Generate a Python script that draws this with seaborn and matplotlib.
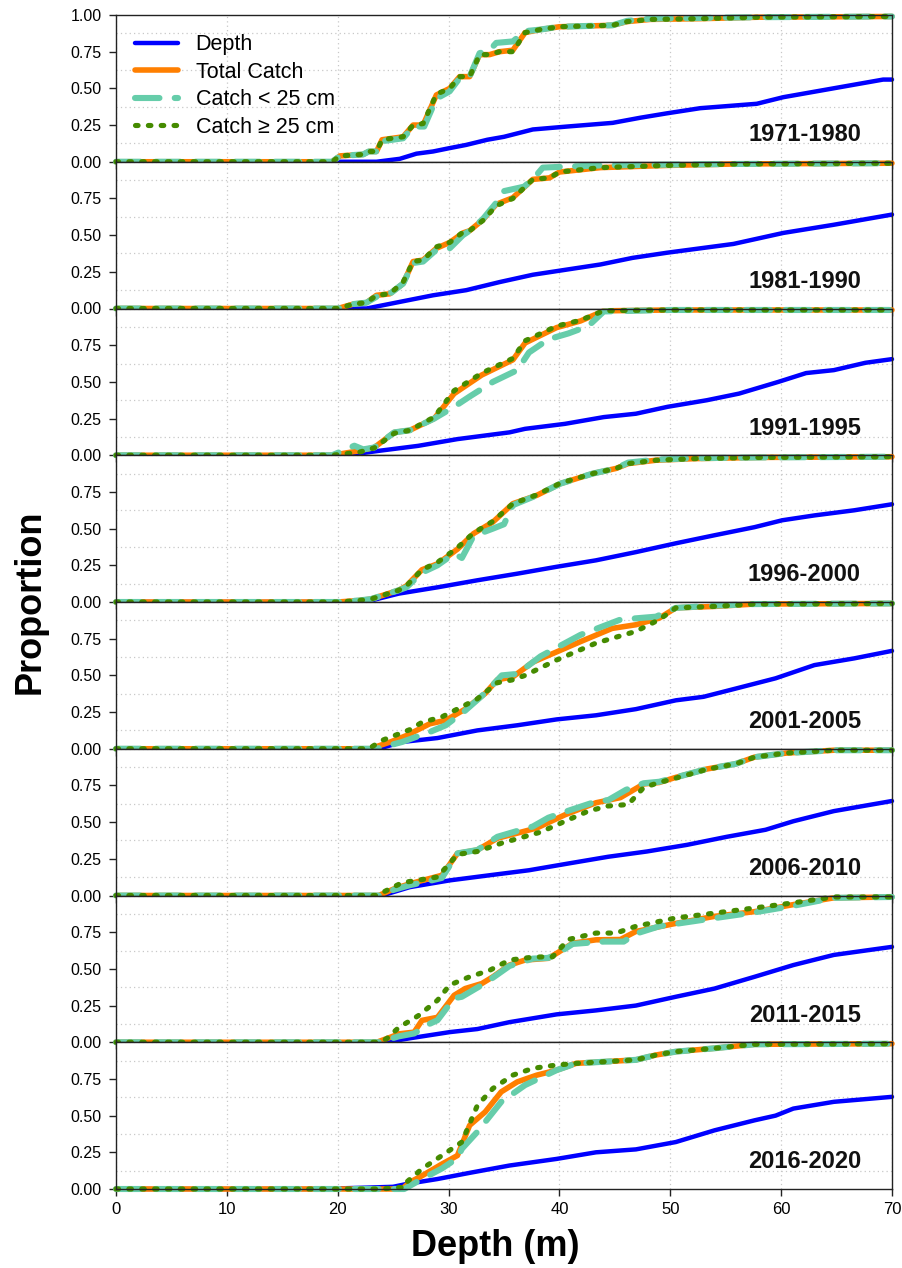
import matplotlib
matplotlib.use("Agg")
import matplotlib.pyplot as plt
from matplotlib.ticker import MultipleLocator, FixedLocator
import seaborn as sns

# ---------------------------------------------------------------------------
# Cumulative proportions by depth (m), one set of curves per period.
# Each list holds (depth, proportion) knots.
# ---------------------------------------------------------------------------
PERIODS = ["1971-1980", "1981-1990", "1991-1995", "1996-2000",
           "2001-2005", "2006-2010", "2011-2015", "2016-2020"]

# 1971-1980
DEPTH_P1 = [(0, 0), (23.5, 0), (25.6, 0.02), (27.1, 0.055), (28.6, 0.07), (30.1, 0.093),
            (31.6, 0.115), (33.5, 0.15), (35.0, 0.17), (37.6, 0.22), (40.7, 0.24),
            (44.8, 0.265), (47.3, 0.30), (49.7, 0.33), (52.7, 0.365), (57.8, 0.395),
            (60.2, 0.44), (63.2, 0.48), (66.2, 0.52), (69.2, 0.56), (70, 0.56)]
TOTAL_P1 = [(0, 0), (19.5, 0), (20.2, 0.04), (22.3, 0.05), (22.8, 0.07), (23.5, 0.07),
            (24.0, 0.15), (25.9, 0.17), (26.8, 0.25), (27.7, 0.25), (28.9, 0.455),
            (30.1, 0.50), (31.0, 0.58), (31.9, 0.58), (32.8, 0.73), (33.7, 0.73),
            (34.6, 0.75), (35.8, 0.76), (36.9, 0.88), (38.2, 0.90), (40.0, 0.92),
            (44.8, 0.93), (46.1, 0.955), (48.2, 0.97), (52.7, 0.975), (58, 0.985), (70, 0.99)]
SMALL_P1 = [(0, 0), (19.5, 0), (20.2, 0.04), (22.3, 0.05), (22.8, 0.07), (23.5, 0.07),
            (24.0, 0.14), (25.9, 0.16), (26.8, 0.24), (27.8, 0.24), (28.9, 0.43),
            (30.1, 0.48), (31.0, 0.57), (31.9, 0.58), (32.8, 0.74), (33.7, 0.76),
            (34.3, 0.81), (35.8, 0.82), (36.9, 0.89), (38.2, 0.90), (40.0, 0.92),
            (44.8, 0.93), (46.1, 0.96), (48.2, 0.975), (52.7, 0.98), (58, 0.985), (70, 0.99)]
LARGE_P1 = [(0, 0), (19.5, 0), (20.2, 0.04), (22.3, 0.05), (22.8, 0.07), (23.5, 0.07),
            (24.0, 0.15), (25.9, 0.17), (26.8, 0.25), (27.7, 0.26), (28.9, 0.46),
            (30.1, 0.50), (31.0, 0.58), (31.9, 0.58), (32.8, 0.73), (33.7, 0.73),
            (34.6, 0.75), (35.8, 0.75), (36.9, 0.88), (38.2, 0.90), (40.0, 0.92),
            (44.8, 0.93), (46.1, 0.955), (48.2, 0.97), (52.7, 0.975), (58, 0.985), (70, 0.99)]

# 1981-1990
DEPTH_P2 = [(0, 0), (22.6, 0), (25.6, 0.045), (28.6, 0.09), (31.6, 0.125), (34.6, 0.18),
            (37.6, 0.23), (43.7, 0.30), (46.6, 0.345), (49.7, 0.38), (55.7, 0.44),
            (60.2, 0.515), (64.7, 0.57), (70, 0.64)]
TOTAL_P2 = [(0, 0), (20, 0), (21.4, 0.03), (22.6, 0.04), (23.5, 0.09), (24.7, 0.10),
            (25.9, 0.17), (26.8, 0.32), (27.7, 0.33), (28.9, 0.41), (30.1, 0.45),
            (31.3, 0.515), (31.9, 0.53), (33.1, 0.605), (34.3, 0.71), (35.8, 0.755),
            (37.6, 0.88), (39.1, 0.89), (40.0, 0.93), (43.7, 0.96), (49.7, 0.975),
            (56, 0.985), (70, 0.99)]
SMALL_P2 = [(0, 0), (20, 0), (21.4, 0.03), (22.6, 0.04), (23.5, 0.08), (24.7, 0.10),
            (25.9, 0.17), (26.8, 0.31), (27.7, 0.32), (28.9, 0.40), (30.1, 0.41),
            (31.3, 0.50), (31.9, 0.53), (33.1, 0.61), (34.3, 0.72), (35.0, 0.80),
            (36.8, 0.83), (37.6, 0.88), (38.5, 0.96), (40.0, 0.965), (43.7, 0.975),
            (49.7, 0.98), (56, 0.985), (70, 0.99)]
LARGE_P2 = [(0, 0), (20, 0), (21.4, 0.03), (22.6, 0.04), (23.5, 0.09), (24.7, 0.10),
            (25.9, 0.18), (26.8, 0.32), (27.7, 0.33), (28.9, 0.42), (30.1, 0.45),
            (31.3, 0.52), (31.9, 0.53), (33.1, 0.60), (34.3, 0.70), (35.8, 0.75),
            (37.6, 0.88), (39.1, 0.89), (40.0, 0.93), (43.7, 0.96), (49.7, 0.975),
            (56, 0.985), (70, 0.99)]

# 1991-1995
DEPTH_P3 = [(0, 0), (20.8, 0), (23.7, 0.03), (27.25, 0.064), (30.8, 0.11), (35.5, 0.156),
            (36.9, 0.18), (40.5, 0.214), (44.0, 0.26), (46.9, 0.283), (49.75, 0.33),
            (53.3, 0.375), (56.2, 0.42), (59.75, 0.50), (62.25, 0.56), (64.75, 0.58),
            (67.6, 0.63), (70, 0.655)]
TOTAL_P3 = [(0, 0), (19.5, 0), (21.9, 0.03), (23.3, 0.053), (25.1, 0.156), (26.5, 0.17),
            (28.7, 0.25), (30.5, 0.42), (33.0, 0.547), (35.8, 0.65), (36.9, 0.765),
            (39.75, 0.87), (41.9, 0.915), (44.0, 0.984), (50, 0.99), (70, 0.99)]
SMALL_P3 = [(0, 0), (19.5, 0), (21.5, 0.065), (22.3, 0.04), (23.3, 0.053), (25.1, 0.156),
            (26.5, 0.17), (28.7, 0.25), (30.5, 0.33), (31.9, 0.40), (34.0, 0.50),
            (36.2, 0.58), (37.25, 0.70), (39.0, 0.79), (40.8, 0.83), (42.6, 0.88),
            (44.0, 0.98), (50, 0.99), (70, 0.99)]
LARGE_P3 = [(0, 0), (19.5, 0), (21.9, 0.02), (23.3, 0.05), (25.1, 0.15), (26.5, 0.17),
            (28.7, 0.26), (30.5, 0.44), (33.0, 0.56), (35.8, 0.66), (36.9, 0.78),
            (39.75, 0.88), (41.9, 0.92), (44.0, 0.985), (50, 0.99), (70, 0.99)]

# 1996-2000
DEPTH_P4 = [(0, 0), (22, 0), (23.0, 0.01), (25.5, 0.057), (29.0, 0.10), (32.6, 0.148),
            (36.2, 0.193), (39.75, 0.24), (43.3, 0.284), (46.9, 0.34), (50.5, 0.40),
            (54.0, 0.455), (57.6, 0.51), (60.1, 0.557), (63.0, 0.59), (66.6, 0.625),
            (70, 0.666)]
TOTAL_P4 = [(0, 0), (20, 0), (21.9, 0.01), (23.0, 0.02), (25.5, 0.08), (26.2, 0.11),
            (27.6, 0.22), (29.0, 0.26), (30.8, 0.36), (32.25, 0.466), (34.0, 0.545),
            (35.8, 0.67), (37.96, 0.727), (40.1, 0.807), (43.0, 0.875), (45.1, 0.91),
            (46.2, 0.943), (48.7, 0.966), (52.25, 0.977), (58, 0.985), (70, 0.99)]
SMALL_P4 = [(0, 0), (20, 0), (21.9, 0.01), (23.0, 0.02), (25.5, 0.08), (26.2, 0.10),
            (27.6, 0.20), (29.0, 0.25), (30.5, 0.33), (31.2, 0.30), (32.25, 0.45),
            (34.0, 0.50), (35.0, 0.53), (35.8, 0.66), (37.96, 0.727), (40.1, 0.807),
            (43.0, 0.875), (45.1, 0.91), (46.2, 0.95), (48.7, 0.97), (52.25, 0.98),
            (58, 0.985), (70, 0.99)]
LARGE_P4 = [(0, 0), (20, 0), (21.9, 0.01), (23.0, 0.02), (25.5, 0.08), (26.2, 0.11),
            (27.6, 0.22), (29.0, 0.27), (30.8, 0.37), (32.25, 0.47), (34.0, 0.55),
            (35.8, 0.67), (37.96, 0.73), (40.1, 0.81), (43.0, 0.875), (45.1, 0.91),
            (46.2, 0.943), (48.7, 0.966), (52.25, 0.977), (58, 0.985), (70, 0.99)]

# 2001-2005
DEPTH_P5 = [(0, 0), (23.7, 0), (25.8, 0.046), (29.0, 0.073), (32.6, 0.125), (36.2, 0.16),
            (39.75, 0.20), (43.3, 0.228), (46.9, 0.27), (50.5, 0.33), (53.0, 0.354),
            (55.9, 0.41), (59.5, 0.48), (63.0, 0.57), (66.6, 0.616), (70, 0.667)]
TOTAL_P5 = [(0, 0), (23.0, 0), (23.3, 0.01), (24.75, 0.046), (26.2, 0.09), (28.3, 0.17),
            (29.75, 0.194), (31.5, 0.27), (33.3, 0.377), (34.4, 0.47), (35.8, 0.49),
            (37.6, 0.59), (39.75, 0.66), (41.9, 0.73), (44.75, 0.82), (46.9, 0.845),
            (49.0, 0.89), (50.5, 0.96), (54.0, 0.97), (57.6, 0.986), (70, 0.99)]
SMALL_P5 = [(0, 0), (23.5, 0), (25.8, 0.046), (28.3, 0.114), (29.75, 0.16), (31.5, 0.26),
            (33.3, 0.38), (34.8, 0.50), (36.2, 0.51), (38.3, 0.63), (41.9, 0.776),
            (45.5, 0.88), (48.7, 0.90), (50.5, 0.96), (54.0, 0.975), (57.6, 0.986), (70, 0.99)]
LARGE_P5 = [(0, 0), (22.8, 0), (24.0, 0.057), (26.5, 0.13), (27.6, 0.18), (29.4, 0.217),
            (32.6, 0.34), (34.4, 0.45), (35.8, 0.47), (36.9, 0.50), (39.75, 0.605),
            (43.3, 0.72), (46.9, 0.80), (49.0, 0.88), (50.5, 0.96), (54.0, 0.97),
            (57.6, 0.986), (70, 0.99)]

# 2006-2010
DEPTH_P6 = [(0, 0), (24.0, 0), (26.5, 0.057), (30.1, 0.103), (33.7, 0.138), (37.25, 0.172),
            (40.8, 0.218), (44.4, 0.264), (47.9, 0.30), (51.5, 0.345), (55.1, 0.40),
            (58.6, 0.448), (61.1, 0.506), (64.75, 0.575), (70, 0.644)]
TOTAL_P6 = [(0, 0), (23.7, 0), (25.1, 0.046), (26.5, 0.08), (29.4, 0.138), (30.8, 0.287),
            (32.6, 0.31), (34.4, 0.39), (36.2, 0.425), (37.96, 0.46), (40.5, 0.55),
            (43.3, 0.632), (45.5, 0.667), (47.6, 0.76), (49.0, 0.77), (50.5, 0.805),
            (53.3, 0.862), (55.9, 0.897), (57.6, 0.943), (60.4, 0.97), (64.75, 0.99), (70, 0.99)]
SMALL_P6 = [(0, 0), (23.7, 0), (25.1, 0.04), (26.5, 0.07), (28.3, 0.10), (29.4, 0.12),
            (30.8, 0.287), (32.6, 0.31), (34.4, 0.40), (36.2, 0.44), (37.6, 0.47),
            (39.0, 0.53), (40.5, 0.57), (43.3, 0.64), (44.4, 0.65), (46.0, 0.72),
            (47.6, 0.765), (49.0, 0.775), (50.5, 0.805), (53.3, 0.862), (55.9, 0.897),
            (57.6, 0.943), (60.4, 0.97), (64.75, 0.99), (70, 0.99)]
LARGE_P6 = [(0, 0), (23.5, 0), (25.8, 0.087), (29.0, 0.126), (30.8, 0.28), (32.6, 0.30),
            (34.75, 0.356), (38.3, 0.432), (40.5, 0.506), (42.6, 0.575), (44.4, 0.61),
            (46.2, 0.62), (47.6, 0.736), (49.0, 0.77), (50.5, 0.80), (53.3, 0.86),
            (55.9, 0.897), (57.6, 0.943), (60.4, 0.97), (64.75, 0.99), (70, 0.99)]

# 2011-2015
DEPTH_P7 = [(0, 0), (24.4, 0), (26.5, 0.027), (30.1, 0.069), (32.6, 0.09), (35.5, 0.137),
            (39.75, 0.19), (43.3, 0.217), (46.9, 0.25), (50.5, 0.31), (54.0, 0.366),
            (57.6, 0.446), (61.1, 0.526), (64.75, 0.595), (70, 0.65)]
TOTAL_P7 = [(0, 0), (23.5, 0), (23.7, 0.005), (24.75, 0.034), (25.5, 0.057), (26.9, 0.069),
            (27.6, 0.149), (29.0, 0.17), (30.5, 0.32), (31.5, 0.366), (33.0, 0.40),
            (34.0, 0.446), (35.5, 0.526), (36.9, 0.56), (39.0, 0.572), (39.75, 0.606),
            (41.2, 0.675), (43.3, 0.698), (45.5, 0.70), (46.9, 0.755), (50.5, 0.81),
            (54.0, 0.858), (57.6, 0.89), (61.1, 0.938), (64.75, 0.984), (70, 0.99)]
SMALL_P7 = [(0, 0), (23.7, 0), (25.5, 0.04), (26.9, 0.06), (28.3, 0.126), (29.0, 0.15),
            (30.5, 0.30), (31.2, 0.31), (33.0, 0.39), (34.0, 0.44), (35.5, 0.52),
            (37.6, 0.57), (39.0, 0.575), (39.75, 0.60), (41.2, 0.67), (44.0, 0.686),
            (45.8, 0.686), (46.9, 0.74), (49.0, 0.79), (54.0, 0.846), (57.6, 0.885),
            (61.1, 0.93), (64.75, 0.984), (70, 0.99)]
LARGE_P7 = [(0, 0), (23.5, 0), (24.4, 0.023), (25.5, 0.10), (27.25, 0.18), (29.0, 0.286),
            (30.1, 0.39), (31.9, 0.446), (33.7, 0.49), (35.5, 0.56), (37.6, 0.58),
            (39.4, 0.583), (40.8, 0.70), (43.3, 0.744), (45.1, 0.744), (46.9, 0.79),
            (50.5, 0.847), (54.0, 0.88), (57.6, 0.915), (61.1, 0.95), (64.75, 0.99), (70, 0.99)]

# 2016-2020
DEPTH_P8 = [(0, 0), (18, 0), (22, 0.008), (25, 0.015), (26.2, 0.034), (29.0, 0.068),
            (31.9, 0.11), (35.5, 0.16), (39.75, 0.205), (43.3, 0.25), (46.9, 0.27),
            (50.5, 0.32), (54.0, 0.40), (57.6, 0.468), (59.5, 0.50), (61.1, 0.548),
            (64.75, 0.594), (70, 0.628)]
TOTAL_P8 = [(0, 0), (25.8, 0), (26.5, 0.046), (27.6, 0.09), (29.4, 0.17), (30.8, 0.228),
            (31.9, 0.434), (33.3, 0.525), (34.75, 0.662), (36.2, 0.73), (37.96, 0.776),
            (39.75, 0.81), (41.5, 0.856), (46.9, 0.88), (48.7, 0.913), (50.5, 0.936),
            (54.0, 0.959), (57.6, 0.986), (70, 0.99)]
SMALL_P8 = [(0, 0), (26.0, 0), (27.6, 0.068), (29.4, 0.14), (30.8, 0.21), (31.2, 0.274),
            (32.6, 0.39), (34.75, 0.594), (36.9, 0.708), (39.75, 0.81), (41.5, 0.856),
            (46.9, 0.88), (48.7, 0.913), (50.5, 0.936), (54.0, 0.959), (57.6, 0.986), (70, 0.99)]
LARGE_P8 = [(0, 0), (24.0, 0), (25.2, 0.01), (26.0, 0.01), (26.2, 0.046), (27.6, 0.137),
            (29.4, 0.228), (31.2, 0.32), (32.6, 0.57), (34.0, 0.685), (35.8, 0.776),
            (37.6, 0.822), (39.75, 0.845), (41.5, 0.856), (46.9, 0.88), (48.7, 0.913),
            (50.5, 0.936), (54.0, 0.959), (57.6, 0.986), (70, 0.99)]

DEPTH_CURVES = [DEPTH_P1, DEPTH_P2, DEPTH_P3, DEPTH_P4, DEPTH_P5, DEPTH_P6, DEPTH_P7, DEPTH_P8]
TOTAL_CURVES = [TOTAL_P1, TOTAL_P2, TOTAL_P3, TOTAL_P4, TOTAL_P5, TOTAL_P6, TOTAL_P7, TOTAL_P8]
SMALL_CURVES = [SMALL_P1, SMALL_P2, SMALL_P3, SMALL_P4, SMALL_P5, SMALL_P6, SMALL_P7, SMALL_P8]
LARGE_CURVES = [LARGE_P1, LARGE_P2, LARGE_P3, LARGE_P4, LARGE_P5, LARGE_P6, LARGE_P7, LARGE_P8]

SERIES_LABELS = ["Depth", "Total Catch", "Catch < 25 cm", "Catch \u2265 25 cm"]
X_TICKS = [0, 10, 20, 30, 40, 50, 60, 70]
Y_TICKS = [0.0, 0.25, 0.5, 0.75]

# ---------------------------------------------------------------------------
sns.set_style("ticks")
plt.rcParams["font.family"] = ["Liberation Sans", "DejaVu Sans"]
plt.rcParams["text.color"] = "black"
plt.rcParams["axes.labelcolor"] = "black"
plt.rcParams["xtick.color"] = "black"
plt.rcParams["ytick.color"] = "black"

STYLES = [
    dict(color="#0000FF", linewidth=3.2, linestyle="-", solid_capstyle="round"),
    dict(color="#FF7F00", linewidth=4.0, linestyle="-", solid_capstyle="round"),
    dict(color="#66CDAA", linewidth=4.4, linestyle=(0, (4.0, 2.5)), dash_capstyle="round"),
    dict(color="#458B00", linewidth=3.7, linestyle=(0, (0.5, 2.0)), dash_capstyle="round"),
]

fig, axes = plt.subplots(len(PERIODS), 1, figsize=(9.03, 12.68), dpi=100, sharex=True)
fig.subplots_adjust(left=116 / 903, right=892 / 903, top=1 - 15 / 1268,
                    bottom=1 - 1189 / 1268, hspace=0)


def draw_curve(ax, knots, style, label):
    xs = [k[0] for k in knots]
    ys = [k[1] for k in knots]
    sns.lineplot(x=xs, y=ys, ax=ax, estimator=None, sort=False, label=label,
                 legend=False, clip_on=False, **style)
    return ax.get_lines()[-1]


legend_handles = []
for i, (ax, period) in enumerate(zip(axes, PERIODS)):
    ax.set_xlim(0, 70)
    ax.set_ylim(0, 1.0)

    # dotted reference grid
    ax.xaxis.set_major_locator(FixedLocator(X_TICKS))
    ax.yaxis.set_major_locator(FixedLocator(Y_TICKS + ([1.0] if i == 0 else [])))
    ax.yaxis.set_minor_locator(MultipleLocator(0.125))
    ax.grid(True, which="major", axis="x", color="#c8c8c8", linestyle=(0, (1, 2.5)), linewidth=0.9)
    ax.grid(True, which="minor", axis="y", color="#c8c8c8", linestyle=(0, (1, 2.5)), linewidth=0.9)
    ax.tick_params(axis="y", which="minor", length=0)
    ax.tick_params(axis="y", which="major", direction="out", length=5, width=1,
                   labelsize=11.5, color="#222222", pad=5.5)
    ax.tick_params(axis="x", which="major", direction="out", length=5, width=1,
                   labelsize=12, color="#222222", pad=4)
    ax.set_yticklabels([f"{v:.2f}" for v in ax.get_yticks()])

    for s in ax.spines.values():
        s.set_visible(True)
        s.set_color("#222222")
        s.set_linewidth(1.0)

    curves = [DEPTH_CURVES[i], TOTAL_CURVES[i], SMALL_CURVES[i], LARGE_CURVES[i]]
    for knots, style, label in zip(curves, STYLES, SERIES_LABELS):
        h = draw_curve(ax, knots, style, label)
        if i == 0:
            legend_handles.append(h)

    ax.text(0.96, 0.14, period, transform=ax.transAxes, ha="right", va="baseline",
            fontsize=17, fontweight="bold", color="#111111")
    ax.set_xlabel("")
    ax.set_ylabel("")

axes[0].legend(legend_handles, SERIES_LABELS, loc="upper left", frameon=False,
               fontsize=15.5, handlelength=2.0, handletextpad=0.8, labelspacing=0.3,
               borderaxespad=0.3, borderpad=0.6, bbox_to_anchor=(0.0, 1.0))

axes[-1].set_xticklabels([str(v) for v in X_TICKS])

fig.text(0.033, (1 - 15 / 1268 + 1 - 1189 / 1268) / 2, "Proportion", rotation=90,
         ha="center", va="center", fontsize=26, fontweight="bold")
fig.text(495 / 903, 1 - 1247 / 1268, "Depth (m)", ha="center", va="center",
         fontsize=26, fontweight="bold")

fig.savefig("out.png", dpi=100, facecolor="white")
